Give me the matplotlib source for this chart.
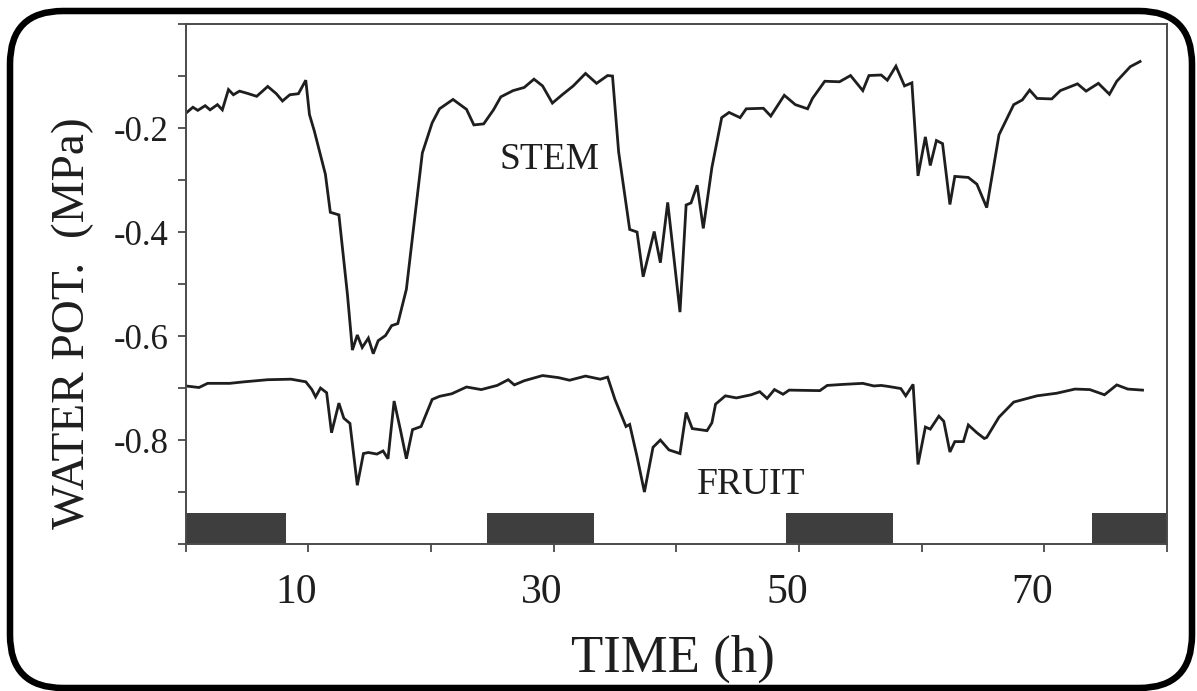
import matplotlib.pyplot as plt
import matplotlib.patches as mpatches
import matplotlib.transforms as mtransforms

plt.rcParams["font.family"] = ["Liberation Serif", "DejaVu Serif"]
plt.rcParams["axes.unicode_minus"] = False

# stem water potential (MPa) against time (h)
stem_t = [0.1, 0.6, 1.0, 1.6, 2.0, 2.6, 3.0, 3.5, 3.9, 4.4, 5.0, 5.8, 6.7, 7.4, 7.9,
          8.5, 9.2, 9.8, 10.1, 10.5, 11.4, 11.8, 12.5, 13.2, 13.6, 14.0, 14.4, 14.9,
          15.3, 15.7, 16.3, 16.8, 17.3, 18.0, 18.6, 19.3, 20.1, 20.7, 21.8, 22.9,
          23.5, 24.3, 25.1, 25.7, 26.7, 27.6, 28.4, 29.1, 29.9, 30.7, 31.6, 32.6,
          33.5, 34.4, 34.8, 35.3, 36.2, 36.8, 37.3, 38.2, 38.7, 39.3, 40.3, 40.8,
          41.2, 41.7, 42.2, 42.9, 43.7, 44.3, 45.2, 45.7, 47.1, 47.7, 48.8, 49.7,
          50.7, 51.1, 52.1, 53.3, 54.2, 55.2, 55.7, 56.7, 57.2, 57.9, 58.6, 59.2,
          59.7, 60.3, 60.7, 61.2, 61.7, 62.3, 62.7, 63.8, 64.5, 65.3, 66.3, 67.5,
          68.2, 68.8, 69.4, 70.6, 71.3, 72.7, 73.4, 74.4, 75.3, 75.9, 77.0, 77.8]
stem_psi = [-0.170, -0.160, -0.166, -0.157, -0.165, -0.155, -0.165, -0.126, -0.136,
            -0.129, -0.133, -0.139, -0.120, -0.134, -0.148, -0.136, -0.134, -0.108,
            -0.174, -0.206, -0.289, -0.362, -0.367, -0.521, -0.627, -0.598, -0.622,
            -0.604, -0.634, -0.609, -0.599, -0.580, -0.576, -0.510, -0.389, -0.248,
            -0.190, -0.163, -0.145, -0.164, -0.194, -0.192, -0.165, -0.140, -0.128,
            -0.122, -0.106, -0.119, -0.152, -0.136, -0.119, -0.095, -0.114, -0.099,
            -0.100, -0.246, -0.395, -0.400, -0.486, -0.399, -0.459, -0.343, -0.554,
            -0.348, -0.344, -0.310, -0.393, -0.276, -0.180, -0.170, -0.180, -0.163,
            -0.162, -0.177, -0.137, -0.155, -0.163, -0.143, -0.110, -0.111, -0.099,
            -0.128, -0.099, -0.098, -0.108, -0.081, -0.119, -0.113, -0.292, -0.217,
            -0.272, -0.224, -0.230, -0.347, -0.293, -0.295, -0.308, -0.353, -0.213,
            -0.155, -0.146, -0.127, -0.143, -0.144, -0.128, -0.115, -0.129, -0.114,
            -0.135, -0.110, -0.082, -0.072]

# fruit water potential (MPa) against time (h)
fruit_t = [0.0, 1.1, 1.8, 3.6, 4.8, 6.7, 8.6, 9.8, 10.3, 10.6, 11.0, 11.5, 11.9, 12.5,
           12.9, 13.4, 14.0, 14.5, 14.9, 15.6, 16.1, 16.5, 17.0, 17.5, 18.0, 18.5,
           19.2, 20.1, 20.7, 21.7, 22.9, 24.1, 25.4, 26.3, 26.8, 27.6, 29.1, 30.4,
           31.3, 32.6, 33.8, 34.4, 35.0, 35.9, 36.2, 36.8, 37.4, 38.1, 38.7, 39.4,
           40.3, 40.8, 41.3, 42.5, 42.9, 43.2, 44.0, 44.9, 46.1, 46.8, 47.4, 48.0,
           48.7, 49.2, 51.7, 52.3, 53.6, 55.2, 56.1, 56.7, 57.3, 58.3, 58.7, 59.3,
           59.7, 60.3, 60.7, 61.4, 61.8, 62.3, 62.7, 63.4, 63.8, 64.5, 65.1, 65.3,
           66.3, 67.5, 69.4, 71.0, 72.5, 73.7, 74.9, 75.9, 76.8, 78.0]
fruit_psi = [-0.696, -0.699, -0.691, -0.691, -0.688, -0.684, -0.683, -0.688, -0.703,
             -0.717, -0.700, -0.709, -0.786, -0.729, -0.758, -0.768, -0.887, -0.826,
             -0.824, -0.827, -0.821, -0.836, -0.725, -0.779, -0.836, -0.780, -0.774,
             -0.722, -0.716, -0.711, -0.698, -0.703, -0.695, -0.684, -0.694, -0.686,
             -0.676, -0.680, -0.685, -0.677, -0.683, -0.679, -0.722, -0.774, -0.770,
             -0.832, -0.900, -0.814, -0.800, -0.819, -0.826, -0.747, -0.778, -0.782,
             -0.767, -0.731, -0.715, -0.719, -0.713, -0.707, -0.720, -0.703, -0.712,
             -0.704, -0.705, -0.695, -0.693, -0.691, -0.696, -0.695, -0.697, -0.701,
             -0.715, -0.693, -0.847, -0.775, -0.779, -0.754, -0.764, -0.823, -0.803,
             -0.803, -0.771, -0.786, -0.797, -0.795, -0.756, -0.727, -0.715, -0.710,
             -0.702, -0.703, -0.713, -0.694, -0.702, -0.704]

# dark periods (h)
night_start = [0.0, 24.6, 48.9, 73.9]
night_end = [8.2, 33.3, 57.7, 80.0]
night_bottom = -1.0
night_top = -0.94

x_major = [10, 30, 50, 70]
x_major_labels = ["10", "30", "50", "70"]
x_minor = [0, 20, 40, 60, 80]
y_major = [-0.8, -0.6, -0.4, -0.2]
y_major_labels = ["-0.8", "-0.6", "-0.4", "-0.2"]
y_minor = [-1.0, -0.9, -0.7, -0.5, -0.3, -0.1, 0.0]

INK = "#1e1e1e"
AXIS_GREY = "#4a4a4a"

fig = plt.figure(figsize=(11.97, 6.91), dpi=100)
ax = fig.add_axes([0.155, 0.2127, 0.820, 0.7525])

ax.plot(stem_t, stem_psi, color=INK, lw=2.0, solid_joinstyle="miter")
ax.plot(fruit_t, fruit_psi, color=INK, lw=2.0, solid_joinstyle="miter")

widths = [e - s for s, e in zip(night_start, night_end)]
ax.bar(night_start, night_top - night_bottom, width=widths, bottom=night_bottom,
       align="edge", color="#3e3e3e", edgecolor="none")

ax.text(25.6, -0.279, "STEM", fontsize=27, color=INK, ha="left", va="baseline")
ax.text(41.7, -0.903, "FRUIT", fontsize=27, color=INK, ha="left", va="baseline")

ax.set_xlim(0, 80)
ax.set_ylim(-1.0, 0.0)

ax.set_xticks(x_major, x_major_labels)
ax.set_xticks(x_minor, minor=True)
ax.set_yticks(y_major, y_major_labels)
ax.set_yticks(y_minor, minor=True)

ax.tick_params(axis="x", which="both", direction="out", length=6, width=1.3,
               color=AXIS_GREY)
ax.tick_params(axis="x", which="major", labelsize=30, pad=15, labelcolor=INK)
ax.tick_params(axis="y", which="both", direction="out", length=6, width=1.3,
               color=AXIS_GREY)
ax.tick_params(axis="y", which="major", labelsize=25, pad=6, labelcolor=INK)

# shift the time labels a little to the left of their ticks
shift = mtransforms.ScaledTranslation(-0.12, 0, fig.dpi_scale_trans)
for lab in ax.get_xticklabels():
    lab.set_transform(lab.get_transform() + shift)

for side in ["left", "right", "top", "bottom"]:
    ax.spines[side].set_color(AXIS_GREY)
    ax.spines[side].set_linewidth(1.4)

ax.set_xlabel("TIME (h)", fontsize=38, color=INK, va="baseline")
ax.xaxis.set_label_coords(0.497, -0.246)
ax.set_ylabel("WATER POT.  (MPa)", fontsize=34, color=INK, va="center")
ax.yaxis.set_label_coords(-0.115, 0.425)

# rounded frame around the whole figure, in pixel units
frame = mpatches.FancyBboxPatch((10, 3), 1182, 677,
                                boxstyle="round,pad=0,rounding_size=53",
                                transform=mtransforms.IdentityTransform(),
                                fill=False, edgecolor="black", linewidth=4.7)
fig.add_artist(frame)

fig.savefig("out.png", dpi=100)
